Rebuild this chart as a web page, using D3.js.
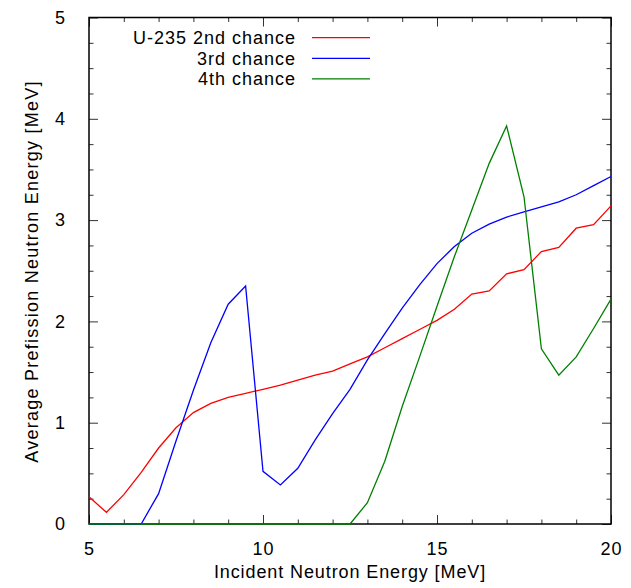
<!DOCTYPE html>
<html lang="en">
<head>
<meta charset="utf-8">
<title>Average prefission neutron energy</title>
<script src="https://d3js.org/d3.v7.min.js"></script>
<style>
  body, html { margin: 0; background: #fff; }
  svg { display: block; }
  text { font-family: "Liberation Sans", Arial, Helvetica, sans-serif; fill: #000; }
</style>
</head>
<body>
<svg id="chart"></svg>
<script>
// incident neutron energy [MeV]
var energy = [5, 5.5, 6, 6.5, 7, 7.5, 8, 8.5, 9, 9.5, 10, 10.5, 11, 11.5, 12, 12.5,
              13, 13.5, 14, 14.5, 15, 15.5, 16, 16.5, 17, 17.5, 18, 18.5, 19, 19.5, 20];
// average prefission neutron energy [MeV]
var secondChance = [0.27, 0.115, 0.29, 0.51, 0.75, 0.95, 1.10, 1.19, 1.25, 1.29, 1.33, 1.37, 1.42, 1.47, 1.51, 1.58,
                    1.65, 1.74, 1.83, 1.92, 2.01, 2.12, 2.27, 2.30, 2.47, 2.51, 2.69, 2.73, 2.92, 2.955, 3.14];
var thirdChance = [0, 0, 0, 0, 0.30, 0.82, 1.32, 1.79, 2.17, 2.35, 0.52, 0.385, 0.55, 0.83, 1.09, 1.33,
                   1.62, 1.88, 2.13, 2.36, 2.57, 2.74, 2.87, 2.96, 3.03, 3.08, 3.13, 3.18, 3.25, 3.34, 3.43];
var fourthChance = [0, 0, 0, 0, 0, 0, 0, 0, 0, 0, 0, 0, 0, 0, 0, 0,
                    0.21, 0.62, 1.16, 1.65, 2.15, 2.64, 3.10, 3.56, 3.93, 3.23, 1.73, 1.47, 1.65, 1.93, 2.22];

var seriesNames = ["U-235 2nd chance", "3rd chance", "4th chance"];
var seriesColors = ["#ff0000", "#0000ff", "#008000"];
var seriesValues = [secondChance, thirdChance, fourthChance];

var xMajor = [5, 10, 15, 20];
var xMinor = [6, 7, 8, 9, 11, 12, 13, 14, 16, 17, 18, 19];
var yMajor = [0, 1, 2, 3, 4, 5];
var yMinor = [0.25, 0.5, 0.75, 1.25, 1.5, 1.75, 2.25, 2.5, 2.75, 3.25, 3.5, 3.75, 4.25, 4.5, 4.75];

var W = 631, H = 588;
var margin = {top: 17.5, right: 20, bottom: 64, left: 89};
var w = W - margin.left - margin.right;
var h = H - margin.top - margin.bottom;

var svg = d3.select("#chart").attr("width", W).attr("height", H);
var g = svg.append("g").attr("transform", "translate(" + margin.left + "," + margin.top + ")");

var x = d3.scaleLinear().domain([5, 20]).range([0, w]);
var y = d3.scaleLinear().domain([0, 5]).range([h, 0]);

// ticks pointing inward on every side
function styleAxis(sel) {
  sel.select(".domain").remove();
  sel.selectAll(".tick line").attr("stroke", "#333").attr("stroke-width", 1);
  sel.selectAll(".tick text").style("font-size", "18px").attr("fill", "#000");
}

g.append("g").attr("transform", "translate(0," + h + ")")
  .call(d3.axisBottom(x).tickValues(xMajor).tickFormat(d3.format("d")).tickSize(-9).tickPadding(15))
  .call(styleAxis)
  .selectAll(".tick text").attr("dy", "0.9em").style("letter-spacing", "1px");
g.append("g").attr("transform", "translate(0," + h + ")")
  .call(d3.axisBottom(x).tickValues(xMinor).tickFormat("").tickSize(-4.5))
  .call(styleAxis);
g.append("g")
  .call(d3.axisTop(x).tickValues(xMajor).tickFormat("").tickSize(-9))
  .call(styleAxis);
g.append("g")
  .call(d3.axisTop(x).tickValues(xMinor).tickFormat("").tickSize(-4.5))
  .call(styleAxis);

g.append("g")
  .call(d3.axisLeft(y).tickValues(yMajor).tickFormat(d3.format("d")).tickSize(-9).tickPadding(24))
  .call(styleAxis);
g.append("g")
  .call(d3.axisLeft(y).tickValues(yMinor).tickFormat("").tickSize(-4.5))
  .call(styleAxis);
g.append("g").attr("transform", "translate(" + w + ",0)")
  .call(d3.axisRight(y).tickValues(yMajor).tickFormat("").tickSize(-9))
  .call(styleAxis);
g.append("g").attr("transform", "translate(" + w + ",0)")
  .call(d3.axisRight(y).tickValues(yMinor).tickFormat("").tickSize(-4.5))
  .call(styleAxis);

// frame
g.append("rect")
  .attr("width", w).attr("height", h)
  .attr("fill", "none").attr("stroke", "#000").attr("stroke-width", 1.5);

// curves
g.append("clipPath").attr("id", "clip")
  .append("rect").attr("x", -1).attr("y", -1).attr("width", w + 2).attr("height", h + 2);

var line = d3.line()
  .x(function(d) { return x(d[0]); })
  .y(function(d) { return y(d[1]); });

seriesValues.forEach(function(vals, i) {
  g.append("path")
    .datum(energy.map(function(e, j) { return [e, vals[j]]; }))
    .attr("clip-path", "url(#clip)")
    .attr("fill", "none")
    .attr("stroke", seriesColors[i])
    .attr("stroke-width", 1.3)
    .attr("stroke-linejoin", "miter")
    .attr("d", line);
});

// legend
var legend = g.append("g").attr("transform", "translate(" + (296 - margin.left) + "," + (37.7 - margin.top) + ")");
seriesNames.forEach(function(name, i) {
  var row = legend.append("g").attr("transform", "translate(0," + (i * 20.6) + ")");
  row.append("text")
    .attr("x", 0).attr("y", 0).attr("dy", "0.35em")
    .attr("text-anchor", "end")
    .style("font-size", "18px")
    .style("letter-spacing", "1px")
    .text(name);
  row.append("line")
    .attr("x1", 16).attr("x2", 74).attr("y1", 0).attr("y2", 0)
    .attr("stroke", seriesColors[i]).attr("stroke-width", 1.3);
});

// axis titles
svg.append("text")
  .attr("x", margin.left + w / 2).attr("y", 578)
  .attr("text-anchor", "middle")
  .style("font-size", "18px")
  .style("letter-spacing", "0.9px")
  .text("Incident Neutron Energy [MeV]");

svg.append("text")
  .attr("transform", "translate(38," + 271.5 + ") rotate(-90)")
  .attr("text-anchor", "middle")
  .style("font-size", "18px")
  .style("letter-spacing", "1.25px")
  .text("Average Prefission Neutron Energy [MeV]");
</script>
</body>
</html>
